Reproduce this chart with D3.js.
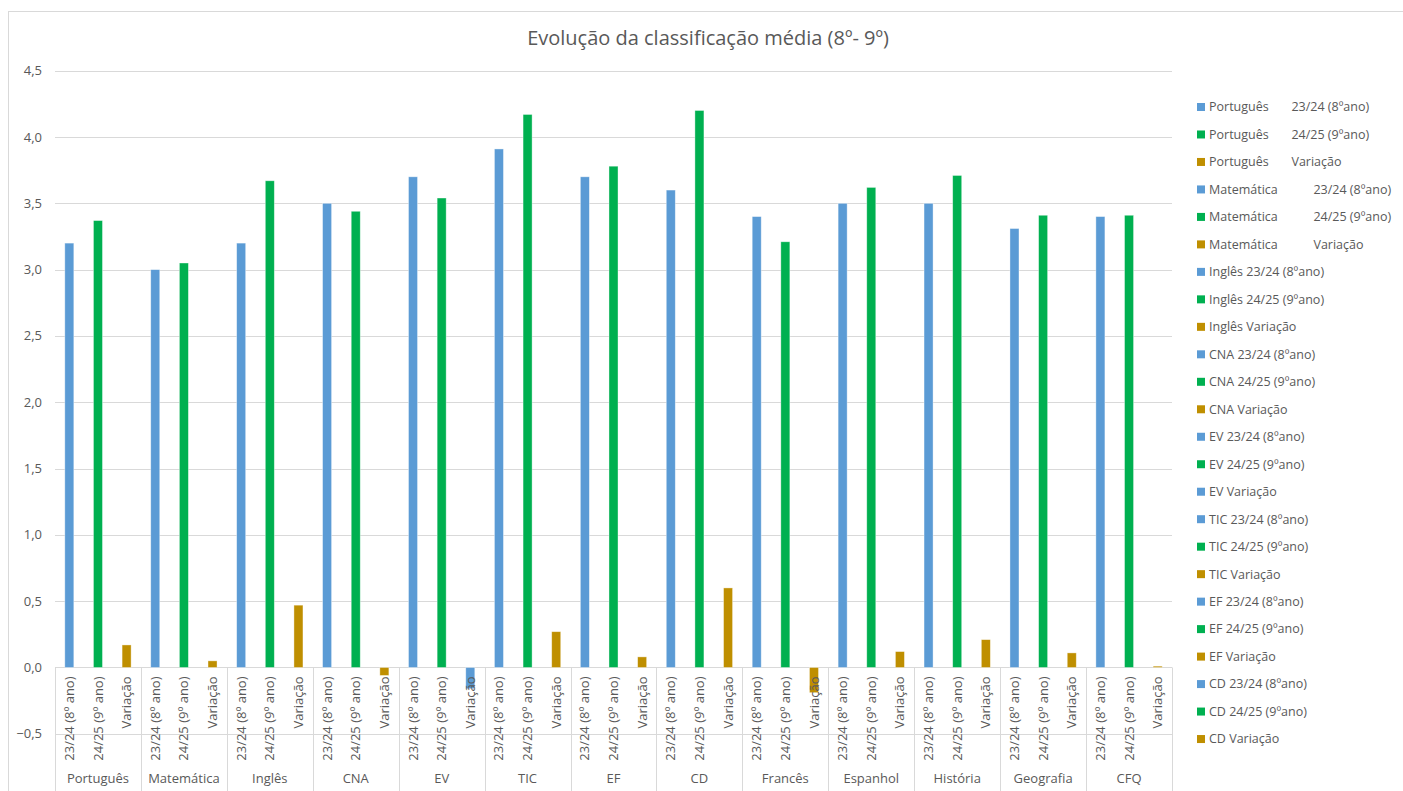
<!DOCTYPE html>
<html>
<head>
<meta charset="utf-8">
<script src="https://cdn.jsdelivr.net/npm/d3@7"></script>
<style>
  html, body { margin: 0; padding: 0; background: #fff; }
  svg { display: block; font-family: "Open Sans", "Noto Sans", sans-serif; }
</style>
</head>
<body>
<svg id="chart" width="1403" height="791"></svg>
<script>
// ---------- data ----------
const chartTitle = "Evolução da classificação média (8º- 9º)";
const categories = ["Português","Matemática","Inglês","CNA","EV","TIC","EF","CD","Francês","Espanhol","História","Geografia","CFQ"];
const subLabels = ["23/24 (8º ano)", "24/25 (9º ano)", "Variação"];
const val2324 = [3.20, 3.00, 3.20, 3.50, 3.70, 3.91, 3.70, 3.60, 3.40, 3.50, 3.50, 3.31, 3.40];
const val2425 = [3.37, 3.05, 3.67, 3.44, 3.54, 4.17, 3.78, 4.20, 3.21, 3.62, 3.71, 3.41, 3.41];
const variacao = [0.17, 0.05, 0.47, -0.06, -0.16, 0.27, 0.08, 0.60, -0.19, 0.12, 0.21, 0.11, 0.01];
const yTicks = [-0.5, 0.0, 0.5, 1.0, 1.5, 2.0, 2.5, 3.0, 3.5, 4.0, 4.5];
const legendLabels = [
  "Português       23/24 (8ºano)", "Português       24/25 (9ºano)", "Português       Variação",
  "Matemática           23/24 (8ºano)", "Matemática           24/25 (9ºano)", "Matemática           Variação",
  "Inglês 23/24 (8ºano)", "Inglês 24/25 (9ºano)", "Inglês Variação",
  "CNA 23/24 (8ºano)", "CNA 24/25 (9ºano)", "CNA Variação",
  "EV 23/24 (8ºano)", "EV 24/25 (9ºano)", "EV Variação",
  "TIC 23/24 (8ºano)", "TIC 24/25 (9ºano)", "TIC Variação",
  "EF 23/24 (8ºano)", "EF 24/25 (9ºano)", "EF Variação",
  "CD 23/24 (8ºano)", "CD 24/25 (9ºano)", "CD Variação"
];
// colour keys: b = blue (23/24), g = green (24/25), o = gold (variação)
const legendKeys = ["b","g","o","b","g","o","b","g","o","b","g","o","b","g","b","b","g","o","b","g","o","b","g","o"];
const variacaoKeys = ["o","o","o","o","b","o","o","o","o","o","o","o","o"];

// ---------- styles ----------
const colors = { b: "#5B9BD5", g: "#00B050", o: "#BF8F00" };
const textColor = "#595959";
const gridColor = "#D9D9D9";

const svg = d3.select("#chart");
const W = 1403, H = 791;
const plot = { left: 55, right: 1172, top: 70.7, bottom: 733.8 };

// chart border
svg.append("rect").attr("x", 8.5).attr("y", 11.5).attr("width", W).attr("height", H)
  .attr("fill", "#fff").attr("stroke", gridColor).attr("stroke-width", 1);

// title
svg.append("text").attr("x", 708).attr("y", 45).attr("text-anchor", "middle")
  .attr("font-size", 20).attr("fill", textColor).text(chartTitle);

// scales
const y = d3.scaleLinear().domain([-0.5, 4.5]).range([plot.bottom, plot.top]);
const x0 = d3.scaleBand().domain(categories).range([plot.left, plot.right]);
const x1 = d3.scaleBand().domain(d3.range(3)).range([0, x0.bandwidth()])
  .paddingInner(0.685).paddingOuter(0.3425);

// gridlines
svg.append("g").selectAll("line").data(yTicks).join("line")
  .attr("x1", plot.left).attr("x2", plot.right)
  .attr("y1", d => Math.round(y(d)) + 0.5).attr("y2", d => Math.round(y(d)) + 0.5)
  .attr("stroke", gridColor).attr("stroke-width", 1);

// y labels
svg.append("g").selectAll("text").data(yTicks).join("text")
  .attr("x", 42).attr("y", d => y(d)).attr("dy", "0.35em")
  .attr("text-anchor", "end").attr("font-size", 13).attr("fill", textColor)
  .text(d => d3.format(".1f")(d).replace(".", ","));

// category separators (multi-level axis)
const sepX = categories.map(c => x0(c)).concat([plot.right]);
svg.append("g").selectAll("line").data(sepX).join("line")
  .attr("x1", d => Math.round(d) + 0.5).attr("x2", d => Math.round(d) + 0.5)
  .attr("y1", y(0)).attr("y2", H)
  .attr("stroke", gridColor).attr("stroke-width", 1);

// bars
const rows = [];
categories.forEach((c, i) => {
  rows.push({ cat: c, sub: 0, v: val2324[i], key: "b" });
  rows.push({ cat: c, sub: 1, v: val2425[i], key: "g" });
  rows.push({ cat: c, sub: 2, v: variacao[i], key: variacaoKeys[i] });
});
svg.append("g").selectAll("rect").data(rows).join("rect")
  .attr("x", d => x0(d.cat) + x1(d.sub))
  .attr("width", x1.bandwidth())
  .attr("y", d => y(Math.max(0, d.v)))
  .attr("height", d => Math.abs(y(d.v) - y(0)))
  .attr("fill", d => colors[d.key])
  .attr("stroke", "#ffffff").attr("stroke-opacity", 0.5).attr("stroke-width", 0.75);

// sub-labels (rotated)
svg.append("g").selectAll("text").data(rows).join("text")
  .attr("transform", d => `translate(${x0(d.cat) + x1(d.sub) + x1.bandwidth() / 2},${y(0) + 9}) rotate(-90)`)
  .attr("text-anchor", "end").attr("dy", "0.35em")
  .attr("font-size", 13).attr("fill", textColor)
  .text(d => subLabels[d.sub]);

// category labels
svg.append("g").selectAll("text").data(categories).join("text")
  .attr("x", c => x0(c) + x0.bandwidth() / 2).attr("y", 783)
  .attr("text-anchor", "middle").attr("font-size", 13).attr("fill", textColor)
  .text(c => c);

// legend
const lg = svg.append("g").attr("transform", "translate(1197,107)");
const step = 27.48;
const item = lg.selectAll("g").data(legendLabels).join("g")
  .attr("transform", (d, i) => `translate(0,${i * step})`);
item.append("rect").attr("x", 0).attr("y", -4).attr("width", 8).attr("height", 8)
  .attr("fill", (d, i) => colors[legendKeys[i]]);
item.append("text").attr("x", 12).attr("dy", "0.35em")
  .attr("font-size", 12.5).attr("fill", textColor)
  .style("white-space", "pre").text(d => d);
</script>
</body>
</html>
